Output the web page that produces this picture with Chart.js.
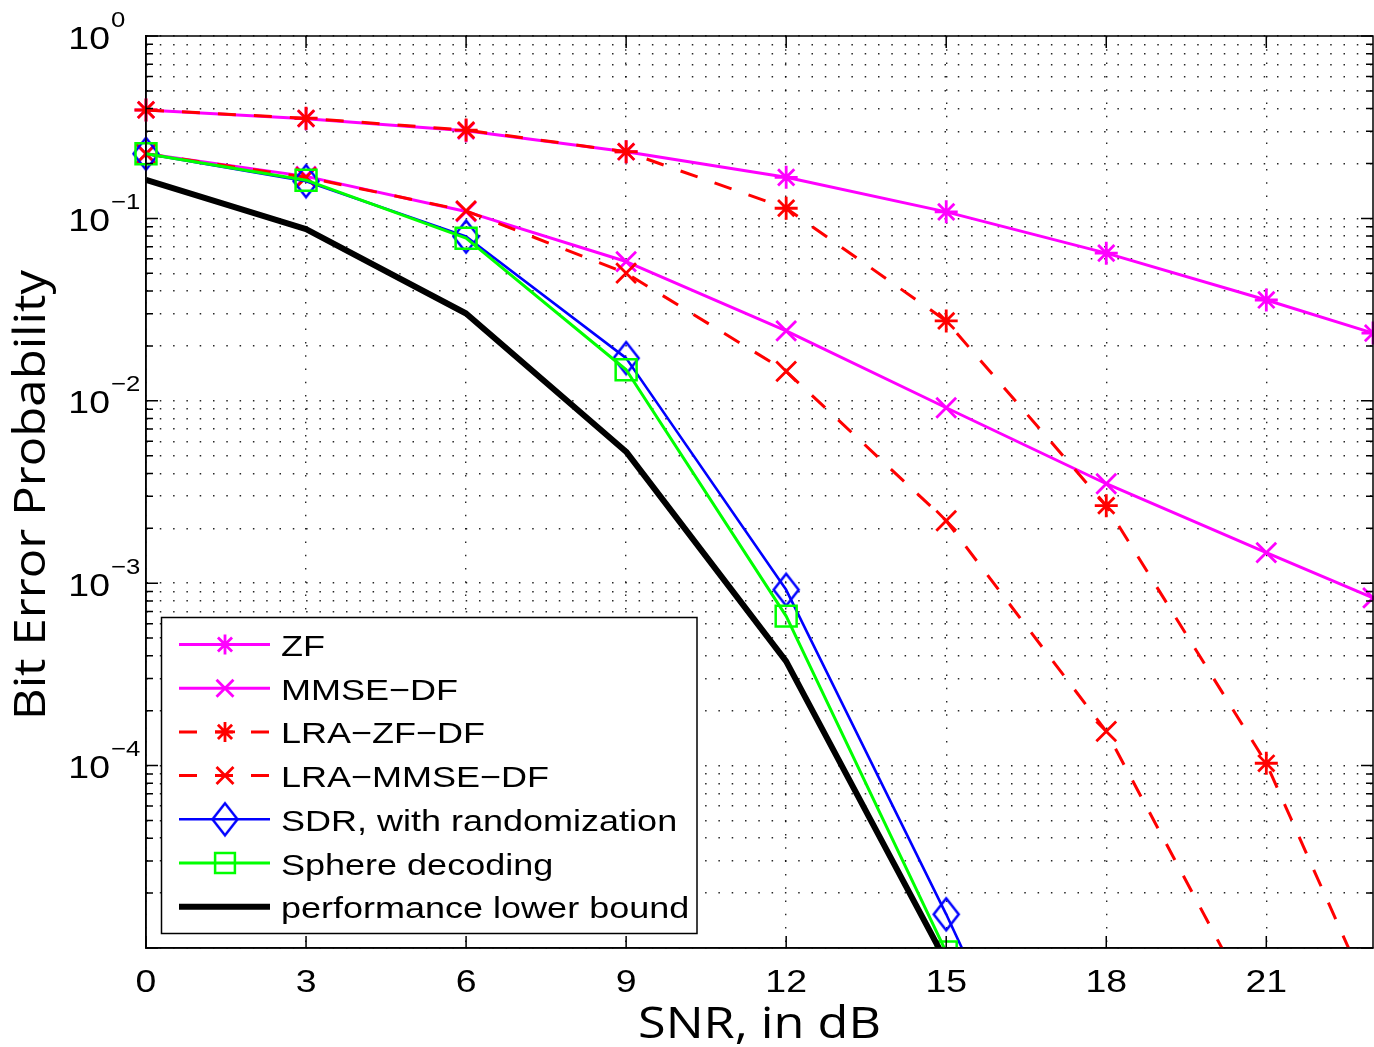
<!DOCTYPE html>
<html>
<head>
<meta charset="utf-8">
<script src="https://cdn.jsdelivr.net/npm/chart.js@4/dist/chart.umd.min.js"></script>
<style>
  html, body { margin: 0; padding: 0; background: #fff; overflow: hidden; }
  canvas { display: block; }
</style>
</head>
<body>
<canvas id="berChart" width="1374" height="1047"></canvas>
<script>
// SNR points (dB) shared by every curve
const snr = [0, 3, 6, 9, 12, 15, 18, 21, 23];

// bit error probability
const zf         = [0.393, 0.352, 0.302, 0.232, 0.168, 0.1086, 0.0645, 0.0357, 0.0235];
const mmseDf     = [0.226, 0.170, 0.109, 0.058, 0.0242, 0.00916, 0.00351, 0.00147, 0.00083];
const lraZfDf    = [0.393, 0.354, 0.305, 0.232, 0.1137, 0.0274, 0.00266, 1.03e-4, 5.0e-6];
const lraMmseDf  = [0.226, 0.168, 0.110, 0.0501, 0.0145, 0.0022, 1.54e-4, 3.5e-6];
const sdr        = [0.226, 0.160, 0.0795, 0.01714, 9.2e-4, 1.53e-5, 2.0e-7];
const sphere     = [0.226, 0.162, 0.0779, 0.0148, 6.6e-4, 9.5e-6];
const lowerBound = [0.1626, 0.0873, 0.0301, 0.00526, 3.73e-4, 8.4e-6];

const seriesNames = ['ZF', 'MMSE\u2212DF', 'LRA\u2212ZF\u2212DF', 'LRA\u2212MMSE\u2212DF',
                     'SDR, with randomization', 'Sphere decoding', 'performance lower bound'];

// axes
const xTicks = [0, 3, 6, 9, 12, 15, 18, 21];
const xTickLabels = ['0', '3', '6', '9', '12', '15', '18', '21'];
const yDecades = [-5, -4, -3, -2, -1, 0];
const yLabelExponents = ['0', '\u22121', '\u22122', '\u22123', '\u22124'];
const xTitle = 'SNR, in dB';
const yTitle = 'Bit Error Probability';

const MAGENTA = '#ff00ff', RED = '#ff0000', BLUE = '#0000ff', GREEN = '#00ff00';
const TICK_FONT = '"Liberation Sans", Arial, sans-serif';
const TITLE_FONT = '"Open Sans", "Noto Sans", sans-serif';

// log grid: 1..9 x 10^k
const yTickValues = [];
yDecades.forEach(d => {
    for (let m = 1; m <= 9; m++) {
        if (d === 0 && m > 1) break;
        yTickValues.push({ value: m * Math.pow(10, d), major: m === 1 });
    }
});

// diamond marker (a bit taller than wide, like the matlab one)
function diamondMarker(w, h, color, lw) {
    const c = document.createElement('canvas');
    c.width = Math.ceil(w + lw * 2);
    c.height = Math.ceil(h + lw * 2);
    const g = c.getContext('2d');
    const cx = c.width / 2, cy = c.height / 2;
    g.strokeStyle = color;
    g.lineWidth = lw;
    g.beginPath();
    g.moveTo(cx, cy - h / 2);
    g.lineTo(cx + w / 2, cy);
    g.lineTo(cx, cy + h / 2);
    g.lineTo(cx - w / 2, cy);
    g.closePath();
    g.stroke();
    return c;
}
const diamond = diamondMarker(25, 32, BLUE, 2.5);

const styles = [
    { color: MAGENTA, width: 3,   dash: [],       point: 'star',     radius: 11.5, pw: 2.8 },
    { color: MAGENTA, width: 3,   dash: [],       point: 'crossRot', radius: 14,   pw: 2.8 },
    { color: RED,     width: 3,   dash: [18, 18], point: 'star',     radius: 11.5, pw: 2.8 },
    { color: RED,     width: 3,   dash: [18, 18], point: 'crossRot', radius: 14,   pw: 2.8 },
    { color: BLUE,    width: 2.6, dash: [],       point: diamond,    radius: 12,   pw: 2.5 },
    { color: GREEN,   width: 3,   dash: [],       point: 'rect',     radius: 14.8, pw: 2.5 },
    { color: '#000',  width: 6,   dash: [],       point: false,      radius: 0,    pw: 0 }
];

const allSeries = [zf, mmseDf, lraZfDf, lraMmseDf, sdr, sphere, lowerBound];

const datasets = allSeries.map((vals, i) => {
    const s = styles[i];
    return {
        label: seriesNames[i],
        data: vals.map((v, k) => ({ x: snr[k], y: v })),
        borderColor: s.color,
        borderWidth: s.width,
        borderDash: s.dash,
        borderCapStyle: 'butt',
        borderJoinStyle: 'round',
        fill: false,
        tension: 0,
        pointStyle: s.point,
        pointRadius: s.radius,
        pointHoverRadius: s.radius,
        pointBorderColor: s.color,
        pointBackgroundColor: 'rgba(0,0,0,0)',
        pointBorderWidth: s.pw,
        clip: { left: 30, top: 30, right: 30, bottom: 0 },
        order: 10 - i   // later series on top, like matlab
    };
});

// text with a horizontal stretch (the source figure is stretched sideways)
function drawText(ctx, text, x, y, font, sx, align) {
    ctx.save();
    ctx.font = font;
    ctx.textAlign = 'left';
    ctx.textBaseline = 'alphabetic';
    const w = ctx.measureText(text).width * sx;
    const x0 = align === 'center' ? x - w / 2 : align === 'right' ? x - w : x;
    ctx.translate(x0, y);
    ctx.scale(sx, 1);
    ctx.fillStyle = '#000';
    ctx.fillText(text, 0, 0);
    ctx.restore();
    return w;
}

function fitText(ctx, text, font, targetWidth) {
    ctx.save();
    ctx.font = font;
    const w = ctx.measureText(text).width;
    ctx.restore();
    return targetWidth / w;
}

function drawMarker(ctx, style, x, y, radius, color, lw) {
    if (!style) return;
    ctx.save();
    if (typeof style !== 'string') {
        ctx.drawImage(style, x - style.width / 2, y - style.height / 2);
        ctx.restore();
        return;
    }
    ctx.strokeStyle = color;
    ctx.lineWidth = lw;
    ctx.beginPath();
    const d = radius * Math.SQRT1_2;
    if (style === 'star' || style === 'cross') {
        ctx.moveTo(x - radius, y); ctx.lineTo(x + radius, y);
        ctx.moveTo(x, y - radius); ctx.lineTo(x, y + radius);
    }
    if (style === 'star' || style === 'crossRot') {
        ctx.moveTo(x - d, y - d); ctx.lineTo(x + d, y + d);
        ctx.moveTo(x - d, y + d); ctx.lineTo(x + d, y - d);
    }
    if (style === 'rect') {
        ctx.rect(x - d, y - d, 2 * d, 2 * d);
    }
    ctx.stroke();
    ctx.restore();
}

const decor = {
    id: 'decor',
    beforeDraw(chart) {
        const ctx = chart.ctx;
        ctx.save();
        ctx.fillStyle = '#fff';
        ctx.fillRect(0, 0, chart.width, chart.height);
        ctx.restore();
    },
    afterDraw(chart) {
        const { ctx, chartArea: a, scales: { x, y } } = chart;

        // frame
        ctx.save();
        ctx.strokeStyle = '#000';
        ctx.lineWidth = 1.5;
        ctx.strokeRect(a.left, a.top, a.right - a.left, a.bottom - a.top);

        // inward ticks on all four sides
        ctx.beginPath();
        xTicks.forEach(v => {
            const px = x.getPixelForValue(v);
            ctx.moveTo(px, a.bottom); ctx.lineTo(px, a.bottom - 12);
            ctx.moveTo(px, a.top);    ctx.lineTo(px, a.top + 12);
        });
        yTickValues.forEach(t => {
            const py = y.getPixelForValue(t.value);
            const len = t.major ? 12 : 7;
            ctx.moveTo(a.left, py);  ctx.lineTo(a.left + len, py);
            ctx.moveTo(a.right, py); ctx.lineTo(a.right - len, py);
        });
        ctx.stroke();
        ctx.restore();

        // x tick labels
        xTicks.forEach((v, i) => {
            drawText(ctx, xTickLabels[i], x.getPixelForValue(v), 992, '32px ' + TICK_FONT, 1.17, 'center');
        });

        // y tick labels 10^k
        yLabelExponents.forEach((e, i) => {
            const py = y.getPixelForValue(Math.pow(10, -i));
            drawText(ctx, '10', 110, py + 12.5, '32px ' + TICK_FONT, 1.17, 'right');
            drawText(ctx, e, 111, py - 9.5, '22px ' + TICK_FONT, 1.17, 'left');
        });

        // axis titles
        const tFont = '44px ' + TITLE_FONT;
        drawText(ctx, xTitle, (a.left + a.right) / 2, 1038, tFont, fitText(ctx, xTitle, tFont, 243), 'center');

        const yFont = '43px ' + TITLE_FONT;
        ctx.save();
        ctx.translate(45, 495);
        ctx.rotate(-Math.PI / 2);
        drawText(ctx, yTitle, 0, 0, yFont, fitText(ctx, yTitle, yFont, 450), 'center');
        ctx.restore();

        // legend
        const box = { left: 161.5, top: 617.5, right: 697, bottom: 933.5 };
        ctx.save();
        ctx.fillStyle = '#fff';
        ctx.fillRect(box.left, box.top, box.right - box.left, box.bottom - box.top);
        ctx.strokeStyle = '#000';
        ctx.lineWidth = 1.5;
        ctx.strokeRect(box.left, box.top, box.right - box.left, box.bottom - box.top);
        ctx.restore();

        seriesNames.forEach((name, i) => {
            const s = styles[i];
            const cy = 644.5 + i * 43.7;
            ctx.save();
            ctx.strokeStyle = s.color;
            ctx.lineWidth = s.width;
            ctx.setLineDash(s.dash);
            ctx.beginPath();
            ctx.moveTo(179, cy);
            ctx.lineTo(270, cy);
            ctx.stroke();
            ctx.restore();
            const r = s.point === 'star' ? 10 : s.point === 'crossRot' ? 12 : s.point === 'rect' ? 14 : s.radius;
            drawMarker(ctx, s.point, 225, cy, r, s.color, s.pw);
            drawText(ctx, name, 281, cy + 11.5, '30px ' + TICK_FONT, 1.2, 'left');
        });
    }
};

const gridColor = 'rgba(0,0,0,0.85)';

new Chart(document.getElementById('berChart'), {
    type: 'line',
    data: { datasets },
    options: {
        responsive: false,
        animation: false,
        devicePixelRatio: 1,
        events: [],
        layout: { autoPadding: false, padding: { top: 36, right: 1, bottom: 0, left: 0 } },
        plugins: {
            legend: { display: false },
            tooltip: { enabled: false }
        },
        scales: {
            x: {
                type: 'linear',
                min: 0,
                max: 23,
                afterBuildTicks: s => { s.ticks = xTicks.map(v => ({ value: v })); },
                afterFit: s => { s.height = 99; },
                ticks: { display: false },
                grid: { color: gridColor, lineWidth: 1.4, drawTicks: false },
                border: { display: true, color: '#000', width: 1.5, dash: [1.5, 11.8] }
            },
            y: {
                type: 'logarithmic',
                min: 1e-5,
                max: 1,
                afterBuildTicks: s => { s.ticks = yTickValues.map(t => ({ value: t.value, major: t.major })); },
                afterFit: s => { s.width = 146; },
                ticks: { display: false },
                grid: { color: gridColor, lineWidth: 1.4, drawTicks: false },
                border: { display: true, color: '#000', width: 1.5, dash: [1.5, 11.8] }
            }
        }
    },
    plugins: [decor]
});
</script>
</body>
</html>
